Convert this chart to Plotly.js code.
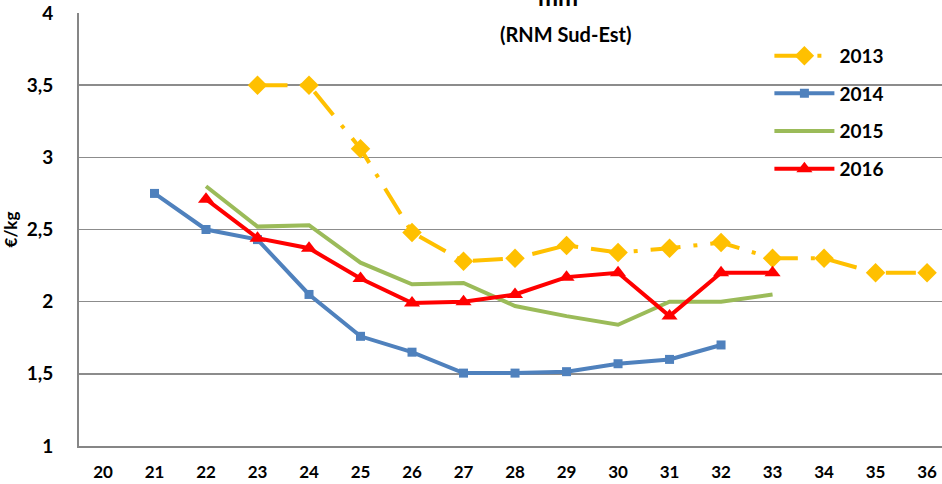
<!DOCTYPE html>
<html>
<head>
<meta charset="utf-8">
<script src="https://cdn.plot.ly/plotly-3.0.1.min.js"></script>
<style>html,body{margin:0;padding:0;background:#fff;overflow:hidden}#chart{width:942px;height:484px}</style>
</head>
<body>
<div id="chart"></div>
<script>
const weeks = ['20','21','22','23','24','25','26','27','28','29','30','31','32','33','34','35','36'];

const weeks2013 = ['23','24','25','26','27','28','29','30','31','32','33','34','35','36'];
const prices2013 = [3.50, 3.50, 3.06, 2.48, 2.28, 2.30, 2.39, 2.34, 2.37, 2.41, 2.30, 2.30, 2.20, 2.20];

const weeks2014 = ['21','22','23','24','25','26','27','28','29','30','31','32'];
const prices2014 = [2.75, 2.50, 2.43, 2.05, 1.76, 1.65, 1.505, 1.505, 1.515, 1.57, 1.60, 1.70];

const weeks2015 = ['22','23','24','25','26','27','28','29','30','31','32','33'];
const prices2015 = [2.80, 2.52, 2.53, 2.27, 2.12, 2.13, 1.97, 1.90, 1.84, 2.00, 2.00, 2.05];

const weeks2016 = ['22','23','24','25','26','27','28','29','30','31','32','33'];
const prices2016 = [2.71, 2.44, 2.37, 2.16, 1.99, 2.00, 2.05, 2.17, 2.20, 1.90, 2.20, 2.20];

const yTicks = [1, 1.5, 2, 2.5, 3, 3.5, 4];
const yTickText = ['1', '1,5', '2', '2,5', '3', '3,5', '4'];

const FONT = 'Lato, "Open Sans", sans-serif';

const traces = [
  {x: weeks2013, y: prices2013, name: '2013', legendgroup: 'a', mode: 'lines+markers',
   line: {color: '#FFC000', width: 4, dash: '30px,13px,4px,13px'},
   marker: {symbol: 'diamond', size: 15, color: '#FFC000'}},
  {x: weeks2014, y: prices2014, name: '2014', legendgroup: 'b', mode: 'lines+markers',
   line: {color: '#4F81BD', width: 4},
   marker: {symbol: 'square', size: 9, color: '#4F81BD'}},
  {x: weeks2015, y: prices2015, name: '2015', legendgroup: 'c', mode: 'lines',
   line: {color: '#9BBB59', width: 4}},
  {x: weeks2016, y: prices2016, name: '2016', legendgroup: 'd', mode: 'lines+markers',
   line: {color: '#FF0000', width: 4},
   marker: {symbol: 'triangle-up', size: 14, color: '#FF0000'}}
];

const layout = {
  width: 942, height: 484,
  margin: {l: 79, r: 0, t: 13, b: 38, pad: 0},
  paper_bgcolor: '#fff', plot_bgcolor: '#fff',
  font: {family: FONT, color: '#000', size: 16},
  showlegend: true,
  legend: {x: 0.80, xanchor: 'left', y: 0.945, yanchor: 'top',
           font: {family: FONT, size: 19, color: '#000', weight: 'bold'},
           traceorder: 'grouped', tracegroupgap: 10, itemwidth: 60,
           bgcolor: 'rgba(0,0,0,0)'},
  xaxis: {type: 'category', categoryorder: 'array', categoryarray: weeks,
          range: [-0.466, 16.29], showgrid: false, zeroline: false,
          showline: true, linecolor: '#868686', linewidth: 2,
          ticks: '', tickvals: weeks, ticktext: weeks, ticklabelstandoff: 10,
          tickfont: {family: FONT, size: 17, color: '#000', weight: 'bold'}, fixedrange: true},
  yaxis: {range: [1, 4], tickvals: yTicks, ticktext: yTickText,
          showgrid: true, gridcolor: '#8c8c8c', gridwidth: 1.5, zeroline: false,
          showline: true, linecolor: '#868686', linewidth: 2, ticks: '',
          ticklabelstandoff: 20,
          tickfont: {family: FONT, size: 19, color: '#000', weight: 'bold'},
          title: {text: '€/kg', font: {family: FONT, size: 17, color: '#000', weight: 'bold'}, standoff: 6},
          fixedrange: true},
  annotations: [
    {text: '<b>(RNM Sud-Est)</b>', xref: 'paper', yref: 'paper', x: 0.5635, y: 0.951,
     xanchor: 'center', yanchor: 'middle', showarrow: false,
     font: {family: FONT, size: 20, color: '#000'}},
    {text: '<b>mm</b>', xref: 'paper', yref: 'paper', x: 0.555, y: 1.037,
     xanchor: 'center', yanchor: 'middle', showarrow: false,
     font: {family: FONT, size: 24, color: '#000'}}
  ]
};

Plotly.newPlot('chart', traces, layout, {displayModeBar: false, staticPlot: true});
</script>
</body>
</html>
